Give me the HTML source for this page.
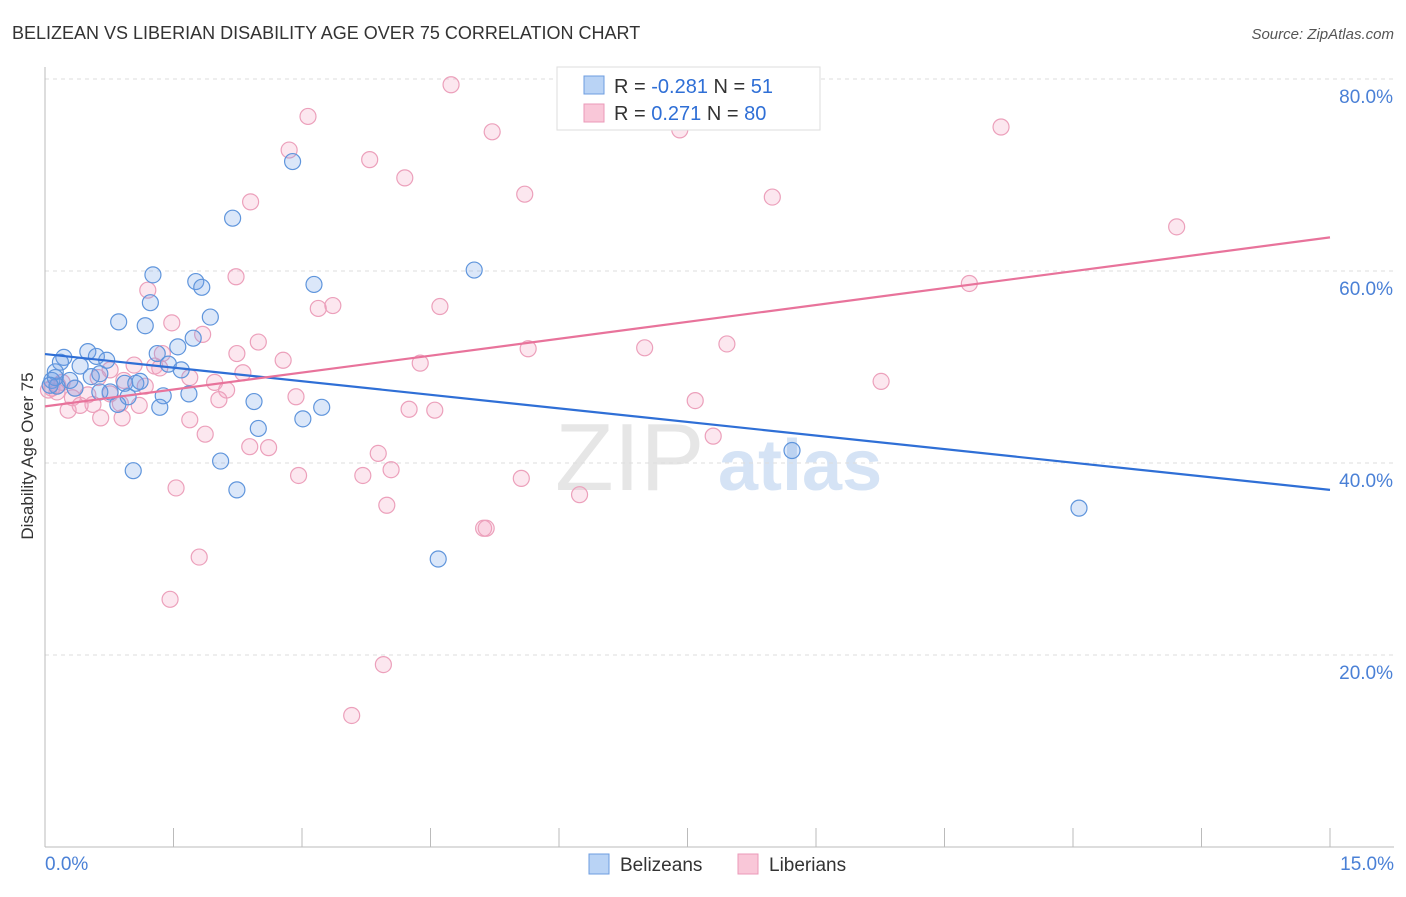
<!DOCTYPE html>
<html><head><meta charset="utf-8"><style>
body{margin:0;background:#fff;font-family:"Liberation Sans",sans-serif}
svg text{font-family:"Liberation Sans",sans-serif}
</style></head><body>
<svg id="chart" width="1406" height="892" xmlns="http://www.w3.org/2000/svg">
<text x="12" y="39" font-size="18" fill="#333">BELIZEAN VS LIBERIAN DISABILITY AGE OVER 75 CORRELATION CHART</text>
<text x="1394" y="39" font-size="15" fill="#555" text-anchor="end" font-style="italic">Source: ZipAtlas.com</text>
<g>
<text x="555" y="490" font-size="96" fill="#e6e6e6" font-family="Liberation Serif">ZIP</text>
<text x="718" y="490" font-size="72" fill="#d5e3f5" font-weight="bold">atlas</text>
</g>
<g id="grid"></g>
<g id="axes"></g>
<g id="points"></g>
<g id="lines"></g>
<text transform="translate(33,456) rotate(-90)" font-size="17" fill="#333" text-anchor="middle">Disability Age Over 75</text>
<g>
<rect x="557" y="67" width="263" height="63" fill="#fff" stroke="#ddd"/>
<rect x="584" y="76" width="20" height="18" fill="#b9d3f5" stroke="#6d9de0"/>
<rect x="584" y="104" width="20" height="18" fill="#f9c7d8" stroke="#eb9ab8"/>
<text x="614" y="93" font-size="20" fill="#333">R = <tspan fill="#2f6fd6">-0.281</tspan>   N = <tspan fill="#2f6fd6"> 51</tspan></text>
<text x="614" y="120" font-size="20" fill="#333">R = <tspan fill="#2f6fd6">  0.271</tspan>   N = <tspan fill="#2f6fd6">80</tspan></text>
</g>
<g>
<rect x="589" y="854" width="20" height="20" fill="#b9d3f5" stroke="#6d9de0"/>
<text x="620" y="871" font-size="19" fill="#333">Belizeans</text>
<rect x="738" y="854" width="20" height="20" fill="#f9c7d8" stroke="#eb9ab8"/>
<text x="769" y="871" font-size="19" fill="#333">Liberians</text>
</g>
</svg>
<script>
const yTicks=[20,40,60,80];
const yTickLabels=["20.0%","40.0%","60.0%","80.0%"];
const xTickLabels=["0.0%","15.0%"];
const belizeX=[2.89,2.19,1.26,5.01,1.76,1.83,3.14,1.23,0.86,1.17,1.93,1.73,1.55,1.31,0.50,0.22,0.60,0.72,0.18,0.41,1.44,1.59,0.12,0.08,0.54,0.64,0.93,1.06,0.14,0.35,0.76,0.97,1.38,1.68,0.85,1.34,2.44,3.23,3.01,2.49,2.05,1.03,2.24,4.59,8.72,12.07,0.12,0.06,0.29,1.11,0.64];
const belizeY=[71.4,65.5,59.6,60.1,58.9,58.3,58.6,56.7,54.7,54.3,55.2,53.0,52.1,51.4,51.6,51.0,51.1,50.7,50.5,50.1,50.3,49.7,49.5,48.6,49.0,49.3,48.3,48.3,48.0,47.8,47.4,46.9,47.0,47.2,46.1,45.8,46.4,45.8,44.6,43.6,40.2,39.2,37.2,30.0,41.3,35.3,48.9,48.1,48.6,48.5,47.4];
const liberX=[4.74,3.07,5.22,7.41,11.16,2.85,3.79,4.20,5.60,2.40,8.49,13.21,2.23,10.79,1.20,3.19,3.36,4.61,1.48,1.84,2.49,1.37,2.24,5.64,7.00,7.96,2.78,4.38,1.28,1.04,0.76,2.31,0.62,0.92,1.17,1.98,2.12,0.20,0.08,0.14,0.32,0.50,2.03,2.93,4.25,4.55,7.59,9.76,0.88,1.10,0.56,0.27,0.65,0.90,1.69,1.87,7.80,2.39,2.61,3.89,4.04,3.71,2.96,1.53,5.56,6.24,3.99,5.12,5.15,1.80,1.46,3.95,3.58,0.41,0.04,0.76,0.35,1.34,1.69,0.15];
const liberY=[79.4,76.1,74.5,74.7,75.0,72.6,71.6,69.7,68.0,67.2,67.7,64.6,59.4,58.7,58.0,56.1,56.4,56.3,54.6,53.4,52.6,51.4,51.4,51.9,52.0,52.4,50.7,50.4,50.1,50.2,49.7,49.4,48.9,48.6,48.0,48.4,47.6,48.4,47.8,47.4,46.8,47.1,46.6,46.9,45.6,45.5,46.5,48.5,46.2,46.0,46.1,45.5,44.7,44.7,44.5,43.0,42.8,41.7,41.6,41.0,39.3,38.7,38.7,37.4,38.4,36.7,35.6,33.2,33.2,30.2,25.8,19.0,13.7,46.0,47.6,47.2,47.8,49.9,48.9,48.1];
const belizeTrend=[51.35,37.2];
const liberTrend=[45.9,63.5];
const NS="http://www.w3.org/2000/svg";
const X=v=>45+v*(1285/15);
const Y=v=>847-v*9.6;
function mk(tag,attrs,parent){const e=document.createElementNS(NS,tag);for(const k in attrs)e.setAttribute(k,attrs[k]);document.getElementById(parent).appendChild(e);return e;}
yTicks.forEach((t,i)=>{
 const g=mk('line',{x1:45,x2:1394,y1:Y(t),y2:Y(t),stroke:'#ddd','stroke-dasharray':'4,4'},'grid');
 
 
 const l=mk('text',{x:1393,y:Y(t)+24,'font-size':19,fill:'#4a80d6','text-anchor':'end'},'grid');
 l.textContent=yTickLabels[i];
 
 
});
const ax=mk('line',{x1:45,x2:45,y1:67,y2:847,stroke:'#bbb'},'axes');


const bx=mk('line',{x1:45,x2:1394,y1:847,y2:847,stroke:'#bbb'},'axes');


for(let i=0;i<=10;i++){
 const t=mk('line',{x1:X(i*1.5),x2:X(i*1.5),y1:828,y2:847,stroke:'#bbb'},'axes');
 
 
}
[[0,'start',45],[15,'end',1394]].forEach((d,i)=>{
 const l=mk('text',{x:d[2],y:870,'font-size':19,fill:'#4a80d6','text-anchor':d[1]},'axes');
 l.textContent=xTickLabels[i];
 
 
});
function pts(xs,ys,fill,stroke,name){xs.forEach((x,i)=>{
 const c=mk('circle',{cx:X(x),cy:Y(ys[i]),r:8,fill:fill,stroke:stroke,'stroke-width':1.2},'points');
 
 
});}
pts(liberX,liberY,'rgba(243,160,190,0.25)','#eca0bb','liberian-point');
pts(belizeX,belizeY,'rgba(110,160,230,0.25)','#5f95dc','belizean-point');
const l1=mk('line',{x1:X(0),y1:Y(belizeTrend[0]),x2:X(15),y2:Y(belizeTrend[1]),stroke:'#2f6fd6','stroke-width':2.2},'lines');


const l2=mk('line',{x1:X(0),y1:Y(liberTrend[0]),x2:X(15),y2:Y(liberTrend[1]),stroke:'#e8739b','stroke-width':2.2},'lines');


</script>
</body></html>
